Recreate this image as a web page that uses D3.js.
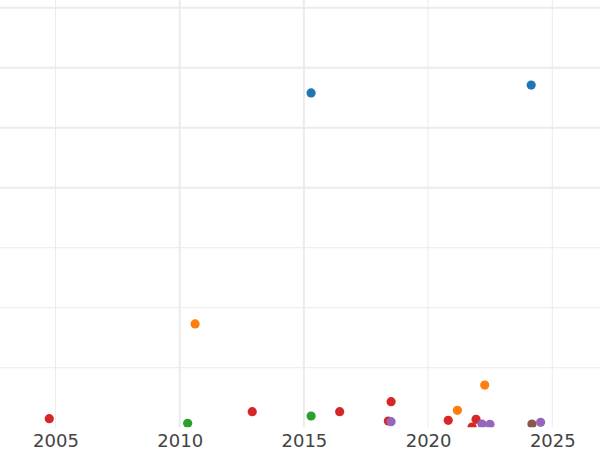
<!DOCTYPE html>
<html>
<head>
<meta charset="utf-8">
<script src="https://cdn.jsdelivr.net/npm/d3@7"></script>
<style>
  html, body { margin: 0; padding: 0; background: #fff; }
  svg { display: block; }
</style>
</head>
<body>
<svg id="chart" width="600" height="450"></svg>
<script>
// ---- data ----
const xTickValues = [2005, 2010, 2015, 2020, 2025];
const xGridThick = [2010, 2015];
const xGridThin = [2005, 2020, 2025];
const yGridThick = [40, 50, 60, 70];
const yGridThin = [10, 20, 30];

const seriesNames = ["blue", "orange", "green", "red", "brown", "purple"];
const seriesColors = ["#1f77b4", "#ff7f0e", "#2ca02c", "#d62728", "#8c564b", "#9467bd"];

const blueYears = [2015.29, 2024.15];
const blueValues = [55.8, 57.1];
const orangeYears = [2010.62, 2022.28, 2021.18];
const orangeValues = [17.3, 7.1, 2.9];
const greenYears = [2010.32, 2015.29];
const greenValues = [0.73, 1.95];
const redYears = [2004.75, 2012.92, 2016.44, 2018.51, 2018.40, 2020.81, 2021.93, 2021.77];
const redValues = [1.5, 2.67, 2.67, 4.33, 1.12, 1.23, 1.4, 0.1];
const brownYears = [2024.18];
const brownValues = [0.62];
const purpleYears = [2018.51, 2022.17, 2022.49, 2024.53];
const purpleValues = [1.0, 0.62, 0.57, 0.9];

const seriesYears = [blueYears, orangeYears, greenYears, redYears, brownYears, purpleYears];
const seriesValues = [blueValues, orangeValues, greenValues, redValues, brownValues, purpleValues];

// ---- layout ----
const W = 600, H = 450;
const plotBottom = 427.7;
const x = d3.scaleLinear().domain([2005, 2025]).range([55.5, 552.3]);
const y = d3.scaleLinear().domain([0, 70]).range([plotBottom, 7.7]);

const svg = d3.select("#chart");
svg.append("rect").attr("width", W).attr("height", H).attr("fill", "#fff");

svg.append("defs").append("clipPath").attr("id", "plotclip")
  .append("rect").attr("x", 0).attr("y", 0).attr("width", W).attr("height", plotBottom - 0.5);

const grid = svg.append("g").attr("clip-path", "url(#plotclip)");
const gridColor = "#ebebeb";

grid.selectAll("line.hthin").data(yGridThin).join("line")
  .attr("x1", 0).attr("x2", W)
  .attr("y1", d => y(d)).attr("y2", d => y(d))
  .attr("stroke", gridColor).attr("stroke-width", 1);
grid.selectAll("line.vthin").data(xGridThin).join("line")
  .attr("y1", 0).attr("y2", plotBottom)
  .attr("x1", d => x(d)).attr("x2", d => x(d))
  .attr("stroke", gridColor).attr("stroke-width", 1);
grid.selectAll("line.hthick").data(yGridThick).join("line")
  .attr("x1", 0).attr("x2", W)
  .attr("y1", d => y(d)).attr("y2", d => y(d))
  .attr("stroke", gridColor).attr("stroke-width", 2);
grid.selectAll("line.vthick").data(xGridThick).join("line")
  .attr("y1", 0).attr("y2", plotBottom)
  .attr("x1", d => x(d)).attr("x2", d => x(d))
  .attr("stroke", gridColor).attr("stroke-width", 2);

// points
const pts = svg.append("g").attr("clip-path", "url(#plotclip)");
seriesNames.forEach((name, i) => {
  const data = seriesYears[i].map((yr, j) => ({ yr, v: seriesValues[i][j] }));
  pts.append("g").attr("class", "series-" + name)
    .selectAll("circle").data(data).join("circle")
    .attr("cx", d => x(d.yr)).attr("cy", d => y(d.v))
    .attr("r", 4.6)
    .attr("fill", seriesColors[i]);
});

// x axis
const xAxis = d3.axisBottom(x).tickValues(xTickValues).tickFormat(d3.format("d"))
  .tickSize(0).tickPadding(7);
const gx = svg.append("g").attr("transform", `translate(0,${plotBottom})`).call(xAxis);
gx.select(".domain").remove();
gx.selectAll("text")
  .attr("font-family", "'DejaVu Sans', sans-serif")
  .attr("font-size", 18)
  .attr("fill", "#444");
</script>
</body>
</html>
